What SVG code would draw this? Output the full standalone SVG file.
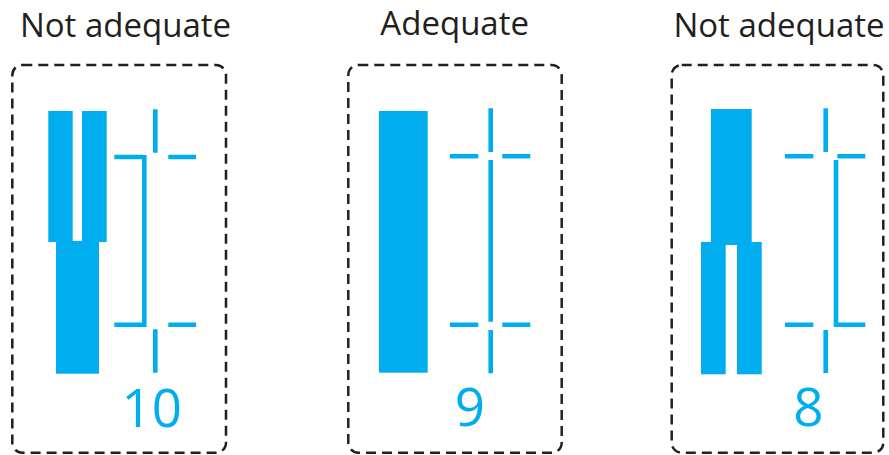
<svg xmlns="http://www.w3.org/2000/svg" width="889" height="455" viewBox="0 0 889 455">
<style>
.title{font-family:"Open Sans","Liberation Sans",sans-serif;font-size:33px;fill:#231f20;text-anchor:middle}
.num{font-family:"Open Sans","Liberation Sans",sans-serif;font-size:53px;fill:#00aeef;text-anchor:middle}
.box{fill:none;stroke:#231f20;stroke-width:2.5;stroke-dasharray:10 6}
.bar{fill:#00aeef}
.ln{stroke:#00aeef;stroke-width:4.6;fill:none}
</style>
<rect width="889" height="455" fill="#fff"/>
<g id="panel1">
<text class="title" x="125.5" y="36.7">Not adequate</text>
<rect class="box" x="12.3" y="65" width="213.7" height="387.7" rx="10"/>
<rect class="bar" x="48.3" y="111" width="24.4" height="131"/>
<rect class="bar" x="82" y="111" width="24.7" height="131"/>
<rect class="bar" x="56" y="241" width="43" height="132.7"/>
<path class="ln" d="M114.3 157H142.7M168.3 157H196M114.3 324.7H142.7M168.3 324.7H196M155.3 109.3V152.7M155.3 329.3V372.7M144.3 155V327"/>
<text class="num" x="151.7" y="426.7">10</text>
</g>
<g id="panel2">
<text class="title" x="454.7" y="35">Adequate</text>
<rect class="box" x="348.3" y="65" width="213.4" height="387.7" rx="10"/>
<rect class="bar" x="379" y="111" width="48.7" height="261.7"/>
<path class="ln" d="M450 156.3H478.3M502.3 156.3H530.3M450 324.7H478.3M502.3 324.7H530.3M490.7 108.3V152M490.7 160V321.7M490.7 330V373.3"/>
<text class="num" x="470" y="426">9</text>
</g>
<g id="panel3">
<text class="title" x="779" y="36.7">Not adequate</text>
<rect class="box" x="671.7" y="65" width="211.6" height="387.7" rx="10"/>
<rect class="bar" x="711" y="109" width="40.7" height="136"/>
<rect class="bar" x="701" y="242" width="24.7" height="132.3"/>
<rect class="bar" x="737" y="242" width="24.7" height="132.3"/>
<path class="ln" d="M785 156.3H813.3M837.3 156.3H865.3M785 324.7H813.3M837.3 324.7H865.3M825.7 108.3V152M825.7 330V373M836 160V327"/>
<text class="num" x="808.3" y="426">8</text>
</g>
</svg>
